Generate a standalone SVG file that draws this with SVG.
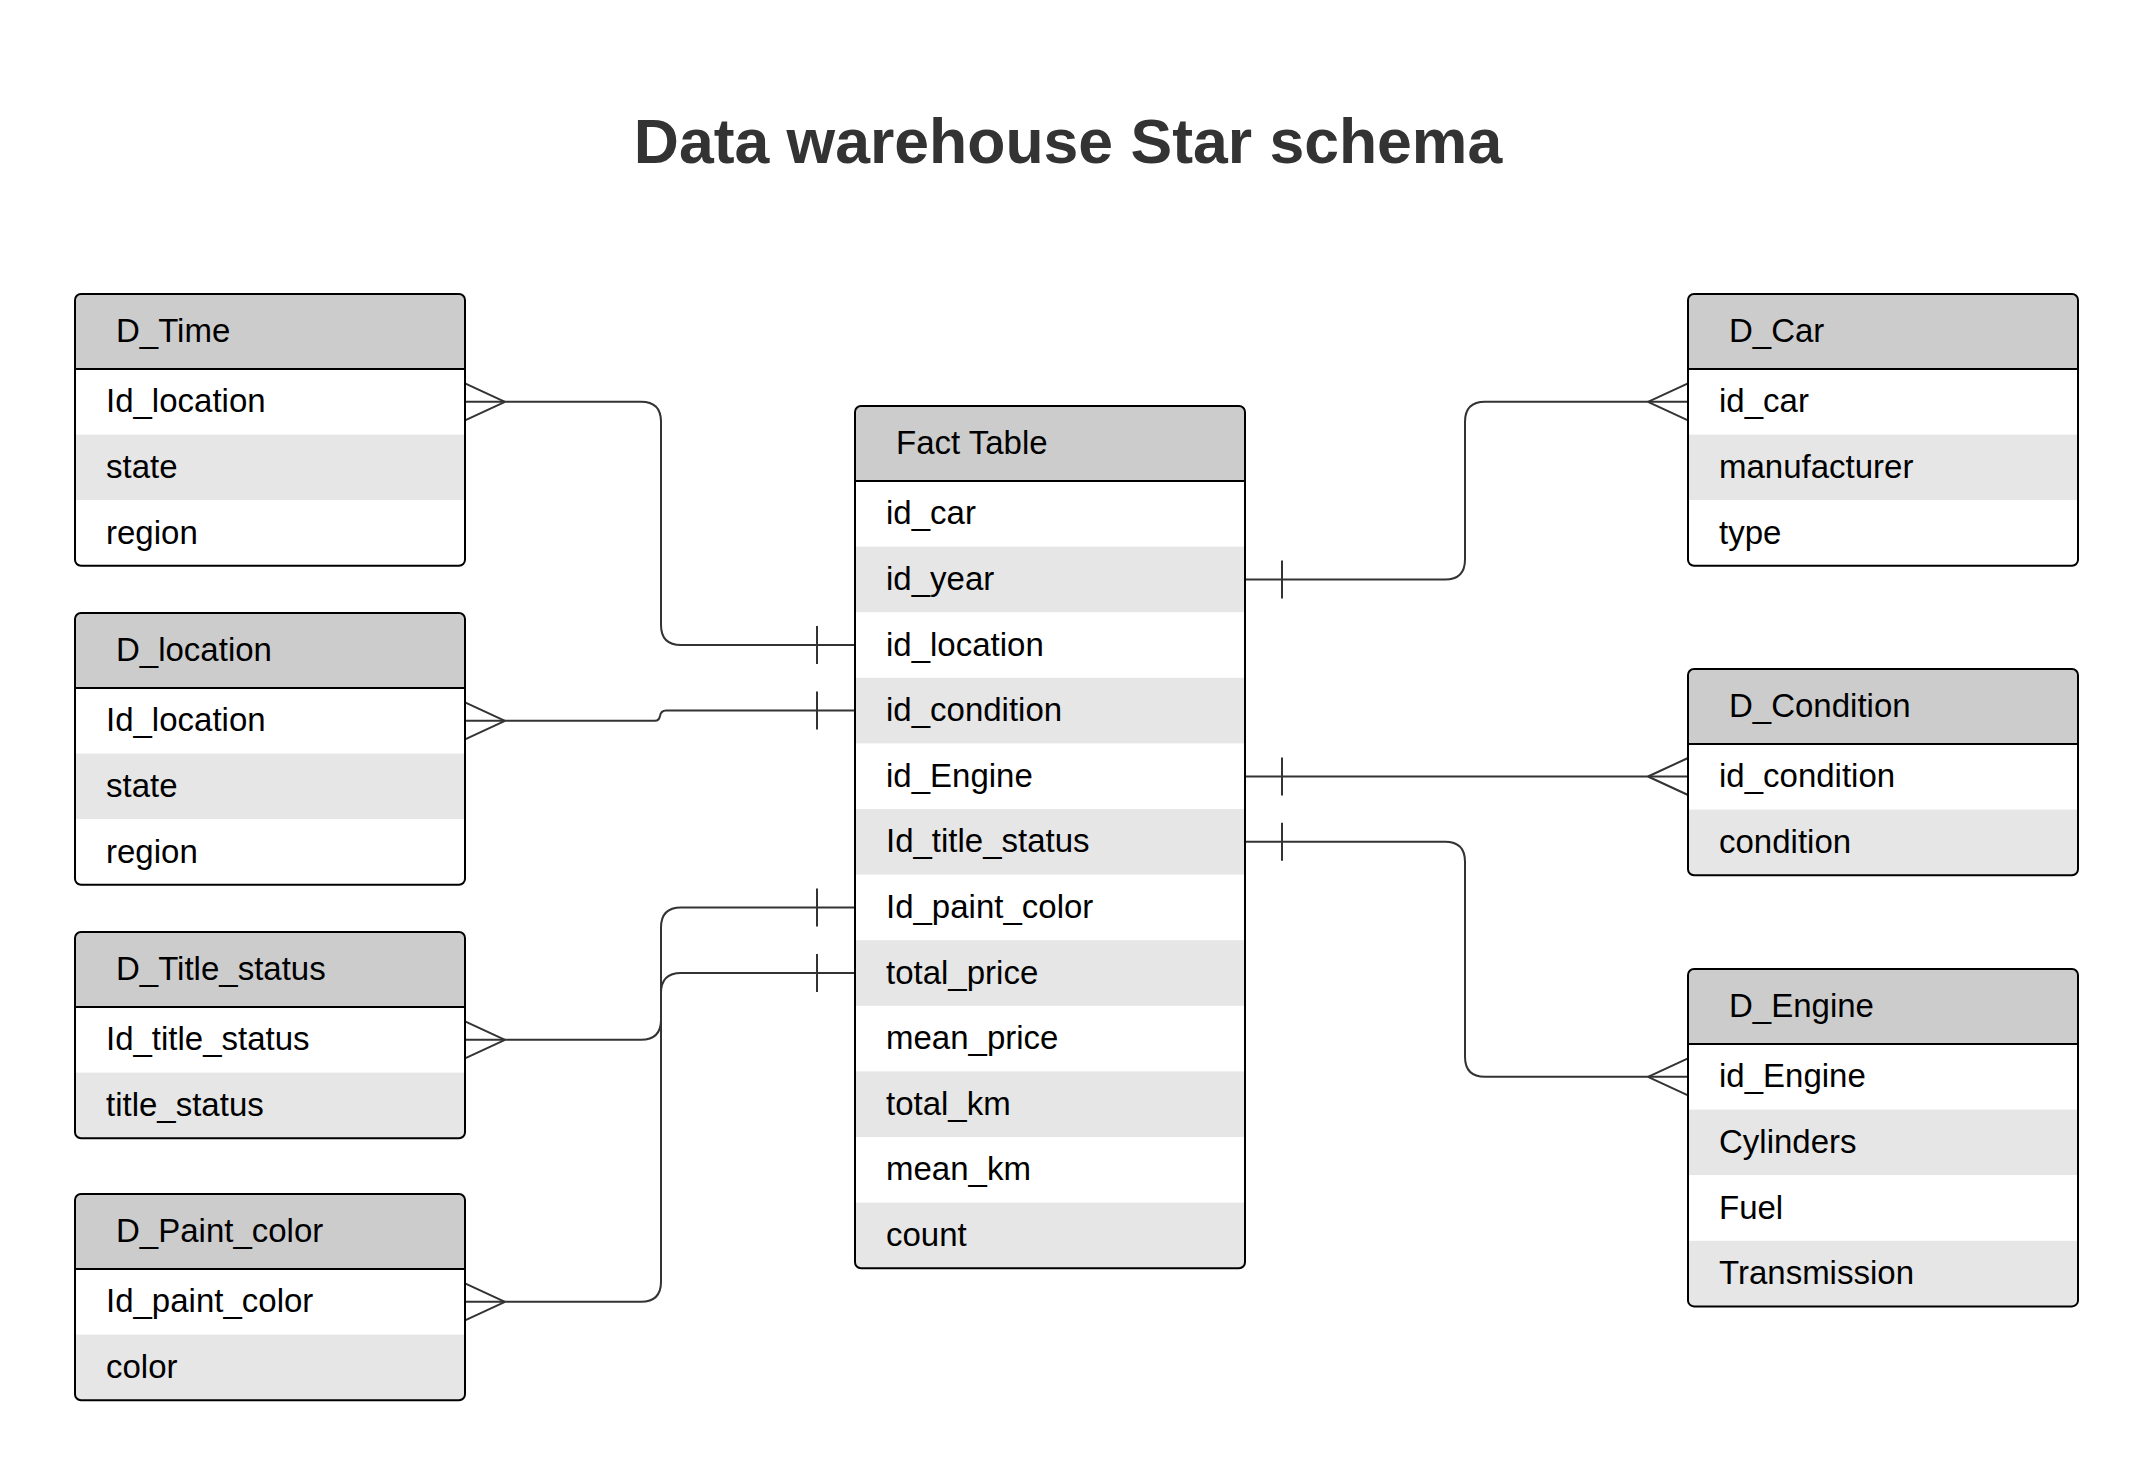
<svg xmlns="http://www.w3.org/2000/svg" xmlns:xlink="http://www.w3.org/1999/xlink" width="2153" height="1476" viewBox="0 0 2153 1476">
<style>
.title{font-family:"Liberation Sans",Arial,sans-serif;font-weight:bold;font-size:62.5px;fill:#333333}
.t{font-family:"Liberation Sans",Arial,sans-serif;font-size:33px;fill:#000000}
.hdr{fill:#cccccc}
.alt{fill:#e6e6e6}
.wht{fill:#ffffff}
.frame{fill:none;stroke:#000000;stroke-width:2}
.sep{stroke:#000000;stroke-width:2}
.conn{fill:none;stroke:#333333;stroke-width:2}
</style>
<defs>
<path id="crowL" d="M0,-18.5 L40,0 M0,18.5 L40,0" fill="none" stroke="#333333" stroke-width="2"/>
<path id="crowR" d="M0,-18.5 L-40,0 M0,18.5 L-40,0" fill="none" stroke="#333333" stroke-width="2"/>
<path id="tick" d="M0,-19 V19" fill="none" stroke="#333333" stroke-width="2"/>
<clipPath id="cTime"><rect x="75" y="294" width="390" height="271.8" rx="6"/></clipPath>
<clipPath id="cLoc"><rect x="75" y="613" width="390" height="271.8" rx="6"/></clipPath>
<clipPath id="cTitle"><rect x="75" y="932" width="390" height="206.2" rx="6"/></clipPath>
<clipPath id="cPaint"><rect x="75" y="1194" width="390" height="206.2" rx="6"/></clipPath>
<clipPath id="cFact"><rect x="855" y="406" width="390" height="862.2" rx="6"/></clipPath>
<clipPath id="cCar"><rect x="1688" y="294" width="390" height="271.8" rx="6"/></clipPath>
<clipPath id="cCond"><rect x="1688" y="669" width="390" height="206.2" rx="6"/></clipPath>
<clipPath id="cEng"><rect x="1688" y="969" width="390" height="337.4" rx="6"/></clipPath>
</defs>
<rect x="0" y="0" width="2153" height="1476" fill="#ffffff"/>
<text class="title" x="1068" y="163" text-anchor="middle">Data warehouse Star schema</text>

<g id="connectors">
<path class="conn" d="M465,401.8 H641 Q661,401.8 661,421.8 V625 Q661,645 681,645 H855"/>
<use xlink:href="#crowL" x="465" y="401.8"/>
<use xlink:href="#tick" x="817" y="645"/>
<path class="conn" d="M465,720.8 H655 Q659,720.8 660,716 Q661,710.6 666,710.6 H855"/>
<use xlink:href="#crowL" x="465" y="720.8"/>
<use xlink:href="#tick" x="817" y="710.6"/>
<path class="conn" d="M465,1039.8 H641 Q661,1039.8 661,1019.8 V993 Q661,973 681,973 H855"/>
<use xlink:href="#crowL" x="465" y="1039.8"/>
<use xlink:href="#tick" x="817" y="973"/>
<path class="conn" d="M465,1301.8 H641 Q661,1301.8 661,1281.8 V927.4 Q661,907.4 681,907.4 H855"/>
<use xlink:href="#crowL" x="465" y="1301.8"/>
<use xlink:href="#tick" x="817" y="907.4"/>
<path class="conn" d="M1245,579.4 H1445 Q1465,579.4 1465,559.4 V421.8 Q1465,401.8 1485,401.8 H1688"/>
<use xlink:href="#tick" x="1282" y="579.4"/>
<use xlink:href="#crowR" x="1688" y="401.8"/>
<path class="conn" d="M1245,776.5 H1688"/>
<use xlink:href="#tick" x="1282" y="776.5"/>
<use xlink:href="#crowR" x="1688" y="776.5"/>
<path class="conn" d="M1245,841.8 H1445 Q1465,841.8 1465,861.8 V1056.8 Q1465,1076.8 1485,1076.8 H1688"/>
<use xlink:href="#tick" x="1282" y="841.8"/>
<use xlink:href="#crowR" x="1688" y="1076.8"/>
</g>

<g id="D_Time">
<g clip-path="url(#cTime)">
<rect class="hdr" x="75" y="294" width="390" height="75"/>
<rect class="wht" x="75" y="369" width="390" height="65.6"/>
<rect class="alt" x="75" y="434.6" width="390" height="65.6"/>
<rect class="wht" x="75" y="500.2" width="390" height="65.6"/>
</g>
<line class="sep" x1="75" y1="369" x2="465" y2="369"/>
<rect class="frame" x="75" y="294" width="390" height="271.8" rx="6"/>
<text class="t" x="116" y="341.5">D_Time</text>
<text class="t" x="106" y="412.3">Id_location</text>
<text class="t" x="106" y="477.9">state</text>
<text class="t" x="106" y="543.5">region</text>
</g>

<g id="D_location">
<g clip-path="url(#cLoc)">
<rect class="hdr" x="75" y="613" width="390" height="75"/>
<rect class="wht" x="75" y="688" width="390" height="65.6"/>
<rect class="alt" x="75" y="753.6" width="390" height="65.6"/>
<rect class="wht" x="75" y="819.2" width="390" height="65.6"/>
</g>
<line class="sep" x1="75" y1="688" x2="465" y2="688"/>
<rect class="frame" x="75" y="613" width="390" height="271.8" rx="6"/>
<text class="t" x="116" y="660.5">D_location</text>
<text class="t" x="106" y="731.3">Id_location</text>
<text class="t" x="106" y="796.9">state</text>
<text class="t" x="106" y="862.5">region</text>
</g>

<g id="D_Title_status">
<g clip-path="url(#cTitle)">
<rect class="hdr" x="75" y="932" width="390" height="75"/>
<rect class="wht" x="75" y="1007" width="390" height="65.6"/>
<rect class="alt" x="75" y="1072.6" width="390" height="65.6"/>
</g>
<line class="sep" x1="75" y1="1007" x2="465" y2="1007"/>
<rect class="frame" x="75" y="932" width="390" height="206.2" rx="6"/>
<text class="t" x="116" y="979.5">D_Title_status</text>
<text class="t" x="106" y="1050.3">Id_title_status</text>
<text class="t" x="106" y="1115.9">title_status</text>
</g>

<g id="D_Paint_color">
<g clip-path="url(#cPaint)">
<rect class="hdr" x="75" y="1194" width="390" height="75"/>
<rect class="wht" x="75" y="1269" width="390" height="65.6"/>
<rect class="alt" x="75" y="1334.6" width="390" height="65.6"/>
</g>
<line class="sep" x1="75" y1="1269" x2="465" y2="1269"/>
<rect class="frame" x="75" y="1194" width="390" height="206.2" rx="6"/>
<text class="t" x="116" y="1241.5">D_Paint_color</text>
<text class="t" x="106" y="1312.3">Id_paint_color</text>
<text class="t" x="106" y="1377.9">color</text>
</g>

<g id="Fact_Table">
<g clip-path="url(#cFact)">
<rect class="hdr" x="855" y="406" width="390" height="75"/>
<rect class="wht" x="855" y="481" width="390" height="787.2"/>
<rect class="alt" x="855" y="546.6" width="390" height="65.6"/>
<rect class="alt" x="855" y="677.8" width="390" height="65.6"/>
<rect class="alt" x="855" y="809" width="390" height="65.6"/>
<rect class="alt" x="855" y="940.2" width="390" height="65.6"/>
<rect class="alt" x="855" y="1071.4" width="390" height="65.6"/>
<rect class="alt" x="855" y="1202.6" width="390" height="65.6"/>
</g>
<line class="sep" x1="855" y1="481" x2="1245" y2="481"/>
<rect class="frame" x="855" y="406" width="390" height="862.2" rx="6"/>
<text class="t" x="896" y="453.5">Fact Table</text>
<text class="t" x="886" y="524.3">id_car</text>
<text class="t" x="886" y="589.9">id_year</text>
<text class="t" x="886" y="655.5">id_location</text>
<text class="t" x="886" y="721.1">id_condition</text>
<text class="t" x="886" y="786.7">id_Engine</text>
<text class="t" x="886" y="852.3">Id_title_status</text>
<text class="t" x="886" y="917.9">Id_paint_color</text>
<text class="t" x="886" y="983.5">total_price</text>
<text class="t" x="886" y="1049.1">mean_price</text>
<text class="t" x="886" y="1114.7">total_km</text>
<text class="t" x="886" y="1180.3">mean_km</text>
<text class="t" x="886" y="1245.9">count</text>
</g>

<g id="D_Car">
<g clip-path="url(#cCar)">
<rect class="hdr" x="1688" y="294" width="390" height="75"/>
<rect class="wht" x="1688" y="369" width="390" height="65.6"/>
<rect class="alt" x="1688" y="434.6" width="390" height="65.6"/>
<rect class="wht" x="1688" y="500.2" width="390" height="65.6"/>
</g>
<line class="sep" x1="1688" y1="369" x2="2078" y2="369"/>
<rect class="frame" x="1688" y="294" width="390" height="271.8" rx="6"/>
<text class="t" x="1729" y="341.5">D_Car</text>
<text class="t" x="1719" y="412.3">id_car</text>
<text class="t" x="1719" y="477.9">manufacturer</text>
<text class="t" x="1719" y="543.5">type</text>
</g>

<g id="D_Condition">
<g clip-path="url(#cCond)">
<rect class="hdr" x="1688" y="669" width="390" height="75"/>
<rect class="wht" x="1688" y="744" width="390" height="65.6"/>
<rect class="alt" x="1688" y="809.6" width="390" height="65.6"/>
</g>
<line class="sep" x1="1688" y1="744" x2="2078" y2="744"/>
<rect class="frame" x="1688" y="669" width="390" height="206.2" rx="6"/>
<text class="t" x="1729" y="716.5">D_Condition</text>
<text class="t" x="1719" y="787.3">id_condition</text>
<text class="t" x="1719" y="852.9">condition</text>
</g>

<g id="D_Engine">
<g clip-path="url(#cEng)">
<rect class="hdr" x="1688" y="969" width="390" height="75"/>
<rect class="wht" x="1688" y="1044" width="390" height="65.6"/>
<rect class="alt" x="1688" y="1109.6" width="390" height="65.6"/>
<rect class="wht" x="1688" y="1175.2" width="390" height="65.6"/>
<rect class="alt" x="1688" y="1240.8" width="390" height="65.6"/>
</g>
<line class="sep" x1="1688" y1="1044" x2="2078" y2="1044"/>
<rect class="frame" x="1688" y="969" width="390" height="337.4" rx="6"/>
<text class="t" x="1729" y="1016.5">D_Engine</text>
<text class="t" x="1719" y="1087.3">id_Engine</text>
<text class="t" x="1719" y="1152.9">Cylinders</text>
<text class="t" x="1719" y="1218.5">Fuel</text>
<text class="t" x="1719" y="1284.1">Transmission</text>
</g>
</svg>
